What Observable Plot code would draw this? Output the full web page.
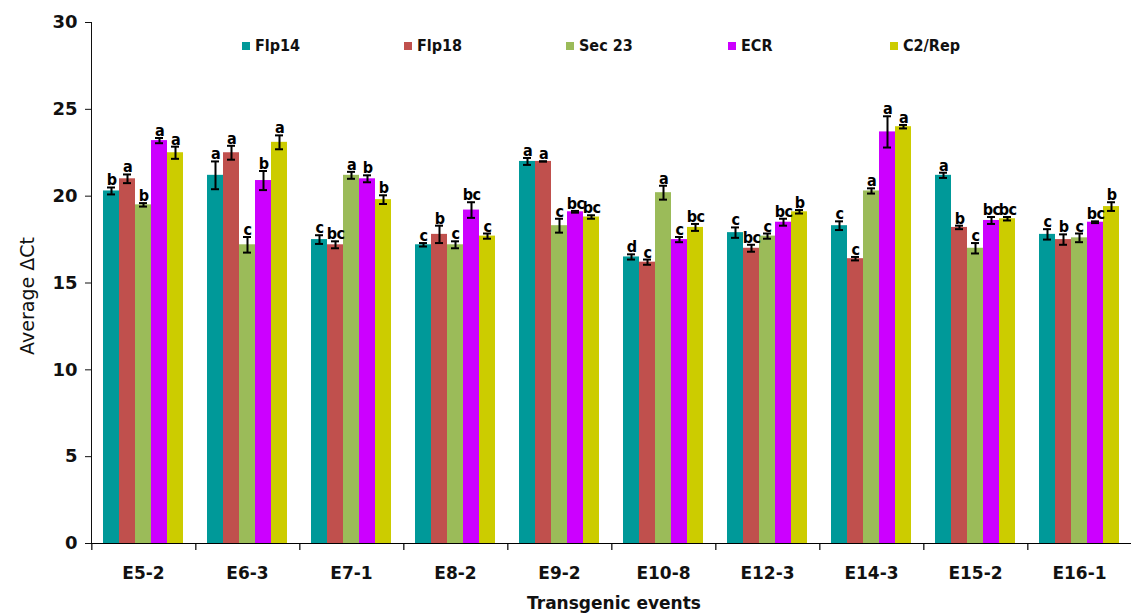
<!DOCTYPE html>
<html><head><meta charset="utf-8">
<script src="https://cdn.jsdelivr.net/npm/d3@7"></script>
<script src="https://cdn.jsdelivr.net/npm/@observablehq/plot@0.6"></script>
<style>
body{margin:0;background:#fff;}
#wrap{position:relative;width:1135px;height:616px;overflow:hidden;}
#wrap svg{position:absolute;left:0;top:0;}
g[aria-label^="y-axis"] text{font-family:"DejaVu Sans",Verdana,sans-serif;font-weight:bold;font-size:18px;fill:#111;}
g[aria-label^="fx-axis"] text{font-family:"DejaVu Sans",Verdana,sans-serif;font-weight:bold;font-size:17px;fill:#111;}
g[aria-label="text"] text{letter-spacing:-0.6px;}
.ylab{position:absolute;left:27px;top:296px;transform:translate(-50%,-50%) rotate(-90deg);font-family:"DejaVu Sans",Verdana,sans-serif;font-size:19px;white-space:nowrap;color:#111;}
.xlab{position:absolute;left:614px;top:603px;transform:translate(-50%,-50%);font-family:"DejaVu Sans",Verdana,sans-serif;font-weight:bold;font-size:17px;white-space:nowrap;color:#111;}
.legend{position:absolute;top:36px;left:0;font-family:"DejaVu Sans Condensed","DejaVu Sans",sans-serif;font-weight:bold;font-size:16px;color:#111;}
.legend .item{position:absolute;display:flex;align-items:center;white-space:nowrap;}
.legend .sw{width:8px;height:8px;margin-right:5px;}
</style></head><body><div id="wrap"></div>
<script>
const events = ["E5-2","E6-3","E7-1","E8-2","E9-2","E10-8","E12-3","E14-3","E15-2","E16-1"];
const series = ["Flp14","Flp18","Sec 23","ECR","C2/Rep"];
const colors = ["#009999","#c0504d","#9bbb59","#cc00ff","#cccc00"];

const flp14   = [20.3, 21.2, 17.5, 17.2, 22.0, 16.5, 17.9, 18.3, 21.2, 17.8];
const flp18   = [21.0, 22.5, 17.2, 17.8, 22.0, 16.2, 17.0, 16.4, 18.2, 17.5];
const sec23   = [19.5, 17.2, 21.2, 17.2, 18.3, 20.2, 17.7, 20.3, 17.0, 17.6];
const ecr     = [23.2, 20.9, 21.0, 19.2, 19.1, 17.5, 18.5, 23.7, 18.6, 18.5];
const c2rep   = [22.5, 23.1, 19.8, 17.7, 18.8, 18.2, 19.1, 24.0, 18.7, 19.4];

const flp14Err = [0.2, 0.8, 0.25, 0.1, 0.2, 0.15, 0.3, 0.25, 0.15, 0.3];
const flp18Err = [0.25, 0.4, 0.2, 0.5, 0.0, 0.15, 0.2, 0.1, 0.1, 0.3];
const sec23Err = [0.1, 0.45, 0.2, 0.2, 0.4, 0.4, 0.15, 0.15, 0.3, 0.25];
const ecrErr   = [0.15, 0.55, 0.2, 0.45, 0.05, 0.15, 0.2, 0.9, 0.2, 0.05];
const c2repErr = [0.35, 0.4, 0.25, 0.15, 0.1, 0.2, 0.1, 0.1, 0.1, 0.25];

const flp14Let = ["b","a","c","c","a","d","c","c","a","c"];
const flp18Let = ["a","a","bc","b","a","c","bc","c","b","b"];
const sec23Let = ["b","c","a","c","c","a","c","a","c","c"];
const ecrLet   = ["a","b","b","bc","bc","c","bc","a","bc","bc"];
const c2repLet = ["a","a","b","c","bc","bc","b","a","bc","b"];

const yTicks = [0,5,10,15,20,25,30];

const valueSets = [flp14, flp18, sec23, ecr, c2rep];
const errSets = [flp14Err, flp18Err, sec23Err, ecrErr, c2repErr];
const letSets = [flp14Let, flp18Let, sec23Let, ecrLet, c2repLet];

const table = [];
events.forEach((ev, i) => {
  series.forEach((s, j) => {
    table.push({event: ev, series: s, value: valueSets[j][i], err: errSets[j][i], letter: letSets[j][i]});
  });
});

const W = 1135, H = 616, mL = 86, mR = 0, mT = 22, mB = 73;
const padOuter = 0.7;
const fxStep = (W - mL - mR) / events.length;
const xStep = fxStep / (series.length + 2 * padOuter);
const edgeDx = -(padOuter + 0.5) * xStep;

const chart = Plot.plot({
  width: W, height: H,
  marginLeft: mL, marginRight: mR, marginTop: mT, marginBottom: mB,
  style: {fontFamily: "DejaVu Sans, sans-serif", fontSize: "16px", color: "#111", background: "white"},
  facet: {data: table, x: "event"},
  fx: {domain: events, padding: 0, tickSize: 0, tickPadding: 23, label: null, axis: "bottom"},
  x: {domain: series, paddingInner: 0, paddingOuter: padOuter, axis: null},
  y: {domain: [0, 30], ticks: yTicks, tickSize: 6, tickPadding: 8, line: true, label: null},
  color: {domain: series, range: colors},
  marks: [
    Plot.barY(table, {x: "series", y: "value", fill: "series"}),
    Plot.ruleX(table, {x: "series", y1: d => d.value - d.err, y2: d => d.value + d.err, stroke: "#000", strokeWidth: 2}),
    Plot.tickY(table, {x: "series", y: d => d.value + d.err, insetLeft: 4, insetRight: 4, stroke: "#000", strokeWidth: 2}),
    Plot.tickY(table, {x: "series", y: d => d.value - d.err, insetLeft: 4, insetRight: 4, stroke: "#000", strokeWidth: 2}),
    Plot.text(table, {x: "series", y: d => d.value + d.err, text: "letter", lineAnchor: "bottom", dy: -2,
      fontWeight: "bold", fontSize: 16, fontFamily: "DejaVu Sans Condensed, DejaVu Sans, sans-serif", fill: "#000"}),
    Plot.ruleY([0], {stroke: "#000", strokeWidth: 1.2}),
    Plot.ruleX(["Flp14"], {dx: edgeDx, y1: 0, y2: -0.4, stroke: "#000", strokeWidth: 1.2})
  ]
});

const wrap = document.getElementById("wrap");
wrap.appendChild(chart);

const yl = document.createElement("div");
yl.className = "ylab"; yl.textContent = "Average ΔCt";
wrap.appendChild(yl);
const xl = document.createElement("div");
xl.className = "xlab"; xl.textContent = "Transgenic events";
wrap.appendChild(xl);

const legend = document.createElement("div");
legend.className = "legend";
const legStart = 242, legGap = 162;
series.forEach((s, j) => {
  const it = document.createElement("div");
  it.className = "item";
  it.style.left = (legStart + j * legGap) + "px";
  const sw = document.createElement("span");
  sw.className = "sw"; sw.style.background = colors[j];
  const tx = document.createElement("span");
  tx.textContent = s;
  it.appendChild(sw); it.appendChild(tx);
  legend.appendChild(it);
});
wrap.appendChild(legend);
</script>
</body></html>
